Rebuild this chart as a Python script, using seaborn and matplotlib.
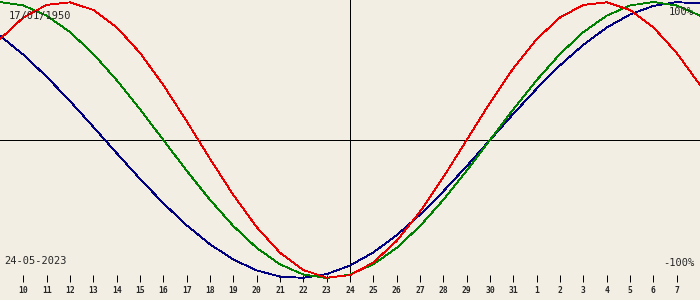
import matplotlib
matplotlib.use("Agg")
import matplotlib.pyplot as plt
import seaborn as sns
import pandas as pd

# day numbers (May 9 .. June 8 written as May-continued day numbers)
days = list(range(9, 40))
physical = [0.7308, 0.8879, 0.9791, 0.9977, 0.9423, 0.8170, 0.6311, 0.3984, 0.1362,
            -0.1362, -0.3984, -0.6311, -0.8170, -0.9423, -0.9977, -0.9791, -0.8879,
            -0.7308, -0.5196, -0.2698, 0.0, 0.2698, 0.5196, 0.7308, 0.8879, 0.9791,
            0.9977, 0.9423, 0.8170, 0.6311, 0.3984]
emotional = [1.0, 0.9749, 0.9010, 0.7818, 0.6235, 0.4339, 0.2225, 0.0, -0.2225,
             -0.4339, -0.6235, -0.7818, -0.9010, -0.9749, -1.0, -0.9749, -0.9010,
             -0.7818, -0.6235, -0.4339, -0.2225, 0.0, 0.2225, 0.4339, 0.6235, 0.7818,
             0.9010, 0.9749, 1.0, 0.9749, 0.9010]
intellectual = [0.7557, 0.6182, 0.4582, 0.2817, 0.0951, -0.0951, -0.2817, -0.4582,
                -0.6182, -0.7557, -0.8660, -0.9450, -0.9898, -0.9989, -0.9718, -0.9096,
                -0.8146, -0.6901, -0.5406, -0.3717, -0.1893, 0.0, 0.1893, 0.3717, 0.5406,
                0.6901, 0.8146, 0.9096, 0.9718, 0.9989, 0.9898]

tick_days = list(range(10, 39))
tick_labels = [str(d) for d in range(10, 32)] + [str(d) for d in range(1, 8)]
birth_label = "17/01/1950"
date_label = "24-05-2023"
center_day = 24

bg = "#f2eee3"
series_colors = {"intellectual": "#000080", "emotional": "#008000", "physical": "#e80000"}

df = pd.concat([
    pd.DataFrame({"day": days, "value": intellectual, "cycle": "intellectual"}),
    pd.DataFrame({"day": days, "value": emotional, "cycle": "emotional"}),
    pd.DataFrame({"day": days, "value": physical, "cycle": "physical"}),
], ignore_index=True)

sns.set_theme(style="white")
plt.rcParams["font.family"] = ["DejaVu Sans Mono", "DejaVu Sans"]

fig = plt.figure(figsize=(7, 3), dpi=100)
fig.patch.set_facecolor(bg)
ax = fig.add_axes([0, 18 / 300, 1, 282 / 300])
ax.set_facecolor(bg)

ax.axhline(0, color="black", lw=0.72, antialiased=False, zorder=1)
ax.axvline(center_day, color="black", lw=0.72, antialiased=False, zorder=1)

sns.lineplot(data=df, x="day", y="value", hue="cycle",
             hue_order=["intellectual", "emotional", "physical"],
             palette=series_colors, linewidth=0.6, legend=False, ax=ax,
             antialiased=False, zorder=3)

ax.set_xlim(9, 39)
ax.set_ylim(-1.029, 1.0145)
for s in ax.spines.values():
    s.set_visible(False)
ax.set_xlabel("")
ax.set_ylabel("")
ax.set_yticks([])
ax.set_xticks(tick_days)
ax.set_xticklabels(tick_labels, fontsize=5.8, fontweight="bold")
ax.tick_params(axis="x", direction="in", length=5, width=0.72, color="black",
               pad=3, bottom=True)

fig.text(9 / 700, 1 - 16.5 / 300, birth_label, fontsize=7.5, ha="left", va="center")
fig.text(4 / 700, 1 - 261.5 / 300, date_label, fontsize=7.5, ha="left", va="center")
fig.text(694 / 700, 1 - 12 / 300, "100%", fontsize=7.5, ha="right", va="center")
fig.text(694 / 700, 1 - 262.5 / 300, "-100%", fontsize=7.5, ha="right", va="center")

fig.savefig("out.png", dpi=100, facecolor=bg)
